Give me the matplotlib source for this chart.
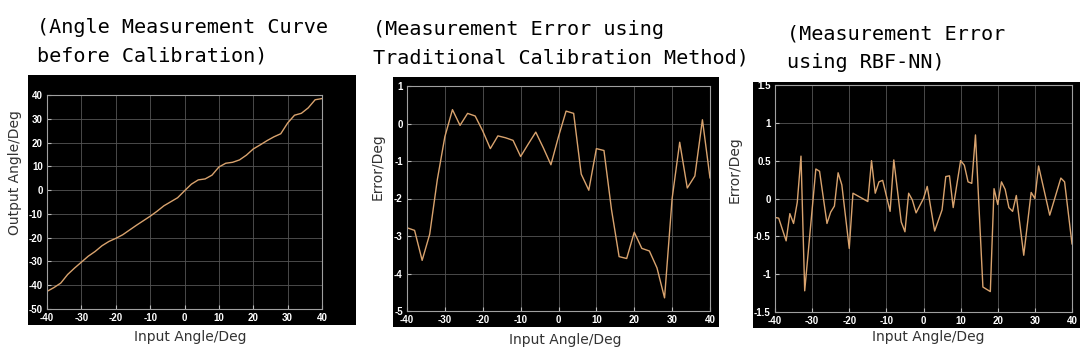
import numpy as np
import matplotlib
matplotlib.use("Agg")
import matplotlib.pyplot as plt
from matplotlib.ticker import MultipleLocator, FuncFormatter

plt.rcParams['axes.unicode_minus'] = False

# panel 1: output angle vs input angle (before calibration)
angle_in = [-40, -38, -36, -34, -32, -30, -28, -26, -24, -22, -20, -18, -16, -14,
            -12, -10, -8, -6, -4, -2, 0, 2, 4, 6, 8, 10, 12, 14, 16, 18, 20,
            22, 24, 26, 28, 30, 32, 34, 36, 38, 40]
angle_out = [-42.6, -41.0, -39.1, -35.5, -32.8, -30.3, -27.8, -25.8, -23.4, -21.6,
             -20.3, -18.8, -16.8, -14.8, -12.9, -11.0, -8.9, -6.6, -4.9, -3.2,
             -0.3, 2.5, 4.3, 4.7, 6.3, 9.7, 11.3, 11.7, 12.7, 14.7, 17.3,
             19.0, 20.8, 22.4, 23.7, 28.2, 31.5, 32.3, 34.6, 38.0, 38.5]

# panel 2: error with the traditional calibration
err_trad = [-2.78, -2.85, -3.65, -2.95, -1.5, -0.35, 0.37, -0.05, 0.27, 0.2,
            -0.2, -0.67, -0.33, -0.38, -0.45, -0.88, -0.55, -0.23, -0.65, -1.1,
            -0.35, 0.33, 0.27, -1.35, -1.78, -0.67, -0.72, -2.3, -3.55, -3.6,
            -2.9, -3.33, -3.4, -3.85, -4.65, -2.0, -0.5, -1.72, -1.4, 0.1, -1.45]

# panel 3: error with RBF-NN
rbf_x = [-40, -39, -37, -36, -35, -34, -33, -32, -29, -28, -26, -25, -24, -23,
         -22, -20, -19, -15, -14, -13, -12, -11, -9, -8, -6, -5, -4, -3, -2, 0,
         1, 3, 5, 6, 7, 8, 10, 11, 12, 13, 14, 16, 18, 19, 20, 21, 22, 23, 24,
         25, 27, 29, 30, 31, 34, 37, 38, 40]
rbf_err = [-0.25, -0.26, -0.56, -0.2, -0.33, -0.05, 0.56, -1.22, 0.39, 0.36,
           -0.33, -0.18, -0.1, 0.34, 0.18, -0.66, 0.07, -0.04, 0.5, 0.07, 0.22,
           0.24, -0.17, 0.51, -0.31, -0.44, 0.07, -0.02, -0.19, 0.0, 0.16, -0.43,
           -0.15, 0.29, 0.3, -0.12, 0.5, 0.44, 0.22, 0.2, 0.84, -1.17, -1.23,
           0.13, -0.08, 0.22, 0.12, -0.12, -0.17, 0.04, -0.75, 0.08, 0.0, 0.43,
           -0.22, 0.27, 0.22, -0.6]

titles = ["(Angle Measurement Curve\nbefore Calibration)",
          "(Measurement Error using\nTraditional Calibration Method)",
          "(Measurement Error\nusing RBF-NN)"]
ylabels = ["Output Angle/Deg", "Error/Deg", "Error/Deg"]
xlabel = "Input Angle/Deg"

W, H = 1080, 356
line_color = '#d9a36e'


def box(x0, y0, x1, y1):
    # pixel box (top-left origin) -> figure fraction rect
    return [x0 / W, 1 - y1 / H, (x1 - x0) / W, (y1 - y0) / H]


fig = plt.figure(figsize=(10.8, 3.56), dpi=100)
fig.patch.set_facecolor('white')

backs = [box(28, 75, 356, 325), box(393, 77, 719, 327), box(753, 82, 1080, 328)]
plots = [box(47, 95, 322, 309), box(407, 86, 710, 311), box(775, 85, 1072, 312)]
ylims = [(-50, 40), (-5, 1), (-1.5, 1.5)]
ysteps = [10, 1, 0.5]
data = [(angle_in, angle_out), (angle_in, err_trad), (rbf_x, rbf_err)]

for b in backs:
    bg = fig.add_axes(b)
    bg.set_facecolor('black')
    bg.set_xticks([])
    bg.set_yticks([])
    for s in bg.spines.values():
        s.set_visible(False)

for i in range(3):
    ax = fig.add_axes(plots[i])
    ax.set_facecolor('black')
    x, y = data[i]
    ax.plot(x, y, color=line_color, lw=1.0)
    ax.set_xlim(-40, 40)
    ax.set_ylim(*ylims[i])
    ax.xaxis.set_major_locator(MultipleLocator(10))
    ax.yaxis.set_major_locator(MultipleLocator(ysteps[i]))
    ax.yaxis.set_major_formatter(FuncFormatter(lambda v, p: '%g' % v))
    ax.grid(True, color='#555555', lw=0.6)
    ax.tick_params(direction='in', length=3, pad=3, colors='#bbbbbb',
                   labelcolor='white', labelsize=7, top=False, right=False)
    for lab in ax.get_xticklabels() + ax.get_yticklabels():
        lab.set_fontweight('bold')
        lab.set_family('Liberation Sans')
    for s in ax.spines.values():
        s.set_color('#a0a0a0')
        s.set_linewidth(0.8)

# axis labels sitting on the white page
fig.text(190 / W, 1 - 337 / H, xlabel, ha='center', va='center', fontsize=10, color='#333333')
fig.text(565 / W, 1 - 340 / H, xlabel, ha='center', va='center', fontsize=10, color='#333333')
fig.text(928 / W, 1 - 337 / H, xlabel, ha='center', va='center', fontsize=10, color='#333333')
fig.text(15 / W, 1 - 173 / H, ylabels[0], ha='center', va='center', rotation=90, fontsize=10, color='#333333')
fig.text(378 / W, 1 - 167 / H, ylabels[1], ha='center', va='center', rotation=90, fontsize=10, color='#333333')
fig.text(735 / W, 1 - 170 / H, ylabels[2], ha='center', va='center', rotation=90, fontsize=10, color='#333333')

# titles
title_pos = [(37, 42), (373, 44), (787, 48)]
for t, (tx, ty) in zip(titles, title_pos):
    fig.text(tx / W, 1 - ty / H, t, ha='left', va='center', fontsize=14.5,
             family='DejaVu Sans Mono', color='black', linespacing=1.65)

fig.savefig('out.png', dpi=100)
